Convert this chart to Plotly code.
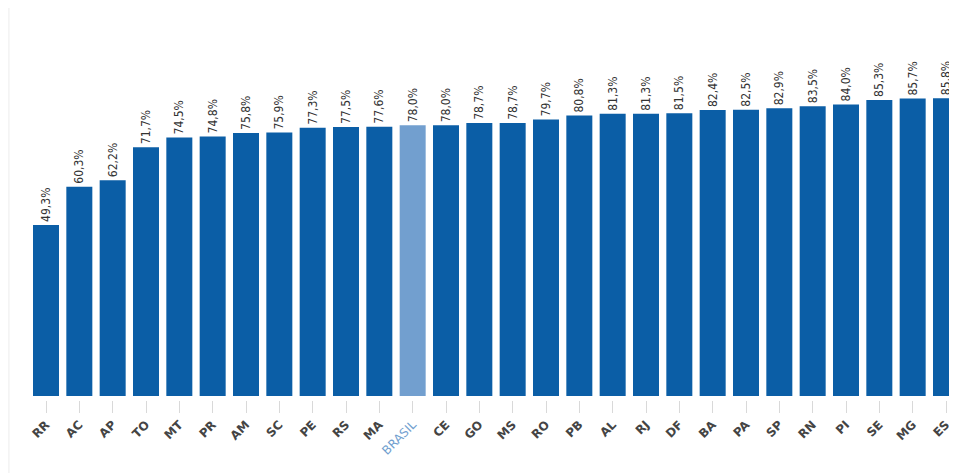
import plotly.graph_objects as go

states = ["RR", "AC", "AP", "TO", "MT", "PR", "AM", "SC", "PE", "RS", "MA", "BRASIL",
          "CE", "GO", "MS", "RO", "PB", "AL", "RJ", "DF", "BA", "PA", "SP", "RN",
          "PI", "SE", "MG", "ES"]
values = [49.3, 60.3, 62.2, 71.7, 74.5, 74.8, 75.8, 75.9, 77.3, 77.5, 77.6, 78.0,
          78.0, 78.7, 78.7, 79.7, 80.8, 81.3, 81.3, 81.5, 82.4, 82.5, 82.9, 83.5,
          84.0, 85.3, 85.7, 85.8]

dark = "#0b5ea6"
light = "#729fcf"
colors = [light if s == "BRASIL" else dark for s in states]
labels = [f"{v:.1f}%".replace(".", ",") for v in values]
ticktext = [f"<span style='color:{light}'>{s}</span>" if s == "BRASIL" else f"<b>{s}</b>" for s in states]
idx = list(range(len(states)))

fig = go.Figure(go.Bar(
    x=idx, y=values, marker=dict(color=colors, line=dict(width=0)),
    text=labels, textposition="outside", textangle=-90, constraintext="none",
    textfont=dict(size=12, color="#333333", family="DejaVu Sans Condensed, Arial"),
    cliponaxis=False, width=0.78,
))

fig.update_layout(
    width=949, height=465,
    margin=dict(l=0, r=0, t=0, b=73, autoexpand=False),
    paper_bgcolor="white", plot_bgcolor="white",
    showlegend=False,
    xaxis=dict(range=[-1.14, 27.33], tickmode="array", tickvals=idx, ticktext=ticktext,
               tickangle=-45, ticks="outside", ticklen=12, tickcolor="#d9d9d9",
               tickfont=dict(size=12, color="#444444", family="DejaVu Sans"),
               automargin=False,
               showgrid=False, zeroline=False, showline=False),
    yaxis=dict(range=[-1.15, 111.8], visible=False, automargin=False),
    shapes=[dict(type="line", xref="paper", yref="paper", x0=0.001, x1=0.001,
                 y0=-0.2, y1=1.0, line=dict(color="#ececec", width=1))],
)

fig.write_html("out.html")
